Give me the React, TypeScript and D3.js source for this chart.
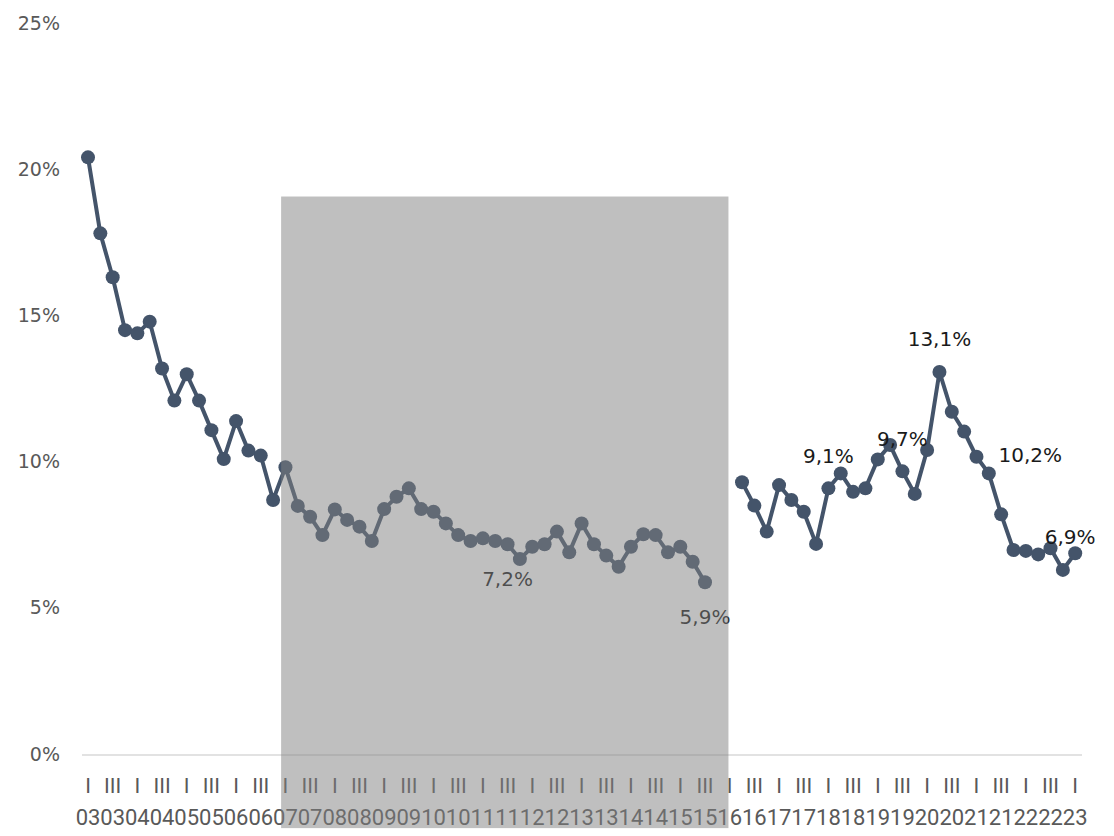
import { useEffect, useRef } from "react";
import * as d3 from "d3";

// quarterly share, 2003 Q1 .. 2023 Q1 (null = no data)
const values: (number | null)[] = [
  20.44, 17.84, 16.34, 14.53, 14.42, 14.82, 13.22, 12.12, 13.02, 12.12,
  11.11, 10.12, 11.42, 10.41, 10.24, 8.72,
  9.84, 8.52, 8.15, 7.52, 8.4, 8.04, 7.81, 7.32, 8.41, 8.83,
  9.12, 8.41, 8.32, 7.92, 7.52, 7.32, 7.41, 7.32, 7.21, 6.7,
  7.12, 7.21, 7.64, 6.93, 7.92, 7.21, 6.82, 6.44, 7.12, 7.55,
  7.52, 6.93, 7.12, 6.61, 5.91,
  null, null,
  9.33, 8.53, 7.64, 9.23, 8.72, 8.32, 7.22, 9.12, 9.63, 9.0,
  9.12, 10.11, 10.6, 9.7, 8.93, 10.43, 13.1, 11.74, 11.06, 10.2,
  9.63, 8.23, 7.01, 6.98, 6.86, 7.07, 6.33, 6.9,
];

const yearLabels = [
  "03", "04", "05", "06", "07", "08", "09", "10", "11", "12", "13",
  "14", "15", "16", "17", "18", "19", "20", "21", "22", "23",
];
const quarterLabels = ["I", "II", "III", "IV"];
const yTicks = [0, 5, 10, 15, 20, 25];

// annotated points: index into values, placement
const labelIdx = [34, 50, 60, 66, 69, 72, 80];
const labelPos = ["below", "below", "above", "above", "above", "right", "near"];

// shaded period (in quarter index / percent units)
const shadeFrom = 15.65;
const shadeTo = 51.9;
const shadeTop = 19.1;
const shadeBottom = -2.5;

const W = 1114;
const H = 836;
const LINE = "#44546a";
const FONT = "'DejaVu Sans', sans-serif";

const App = () => {
  const ref = useRef<SVGSVGElement>(null);

  useEffect(() => {
    const svg = d3.select(ref.current);
    svg.selectAll("*").remove();

    const x = d3.scaleLinear().domain([0, values.length - 1]).range([88, 1075.2]);
    const y = d3.scaleLinear().domain([0, 25]).range([755, 24]);

    // y axis labels
    svg
      .append("g")
      .selectAll("text")
      .data(yTicks)
      .join("text")
      .attr("x", 60)
      .attr("y", (d) => y(d))
      .attr("text-anchor", "end")
      .attr("dominant-baseline", "middle")
      .attr("font-family", FONT)
      .attr("font-size", 19)
      .attr("fill", "#595959")
      .text((d) => d + "%");

    // baseline
    svg
      .append("line")
      .attr("x1", 82)
      .attr("x2", 1082)
      .attr("y1", y(0))
      .attr("y2", y(0))
      .attr("stroke", "#d9d9d9")
      .attr("stroke-width", 1.3);

    // x axis: quarter + year
    const idx = d3.range(values.length).filter((i) => i % 2 === 0);
    const xg = svg.append("g").attr("font-family", "Roboto, sans-serif").attr("fill", "#595959");
    xg.selectAll("text.q")
      .data(idx)
      .join("text")
      .attr("class", "q")
      .attr("x", (i) => x(i))
      .attr("y", 793)
      .attr("text-anchor", "middle")
      .attr("font-size", 21)
      .text((i) => quarterLabels[i % 4]);
    xg.selectAll("text.yr")
      .data(idx)
      .join("text")
      .attr("class", "yr")
      .attr("x", (i) => x(i))
      .attr("y", 825)
      .attr("text-anchor", "middle")
      .attr("font-size", 22)
      .text((i) => yearLabels[Math.floor(i / 4)]);

    // series
    const pts = values.map((v, i) => ({ i, v }));
    const line = d3
      .line<{ i: number; v: number | null }>()
      .defined((d) => d.v != null)
      .x((d) => x(d.i))
      .y((d) => y(d.v as number));

    svg
      .append("path")
      .datum(pts)
      .attr("fill", "none")
      .attr("stroke", LINE)
      .attr("stroke-width", 4)
      .attr("stroke-linejoin", "round")
      .attr("d", line);

    svg
      .append("g")
      .selectAll("circle")
      .data(pts.filter((d) => d.v != null))
      .join("circle")
      .attr("cx", (d) => x(d.i))
      .attr("cy", (d) => y(d.v as number))
      .attr("r", 7)
      .attr("fill", LINE);

    // data labels
    const fmt = (v: number) => d3.format(".1f")(v).replace(".", ",") + "%";
    svg
      .append("g")
      .selectAll("text")
      .data(labelIdx.map((i, k) => ({ i, v: values[i] as number, pos: labelPos[k] })))
      .join("text")
      .attr("x", (d) => x(d.i) + (d.pos === "right" ? 22 : d.pos === "near" ? -5 : 0))
      .attr("y", (d) => {
        const py = y(d.v);
        if (d.pos === "below") return py + 36;
        if (d.pos === "above") return py - 31;
        if (d.pos === "near") return py - 15;
        return py;
      })
      .attr("text-anchor", (d) => (d.pos === "right" ? "start" : "middle"))
      .attr("dominant-baseline", "middle")
      .attr("font-family", FONT)
      .attr("font-size", 20)
      .attr("fill", "#1a1a1a")
      .text((d) => fmt(d.v));

    // shaded period overlay
    svg
      .append("rect")
      .attr("x", x(shadeFrom))
      .attr("width", x(shadeTo) - x(shadeFrom))
      .attr("y", y(shadeTop))
      .attr("height", y(shadeBottom) - y(shadeTop))
      .attr("fill", "#808080")
      .attr("fill-opacity", 0.5);
  }, []);

  return (
    <svg
      ref={ref}
      width={W}
      height={H}
      style={{ position: "absolute", left: 0, top: 0, background: "#fff" }}
    ></svg>
  );
};

export default App;
